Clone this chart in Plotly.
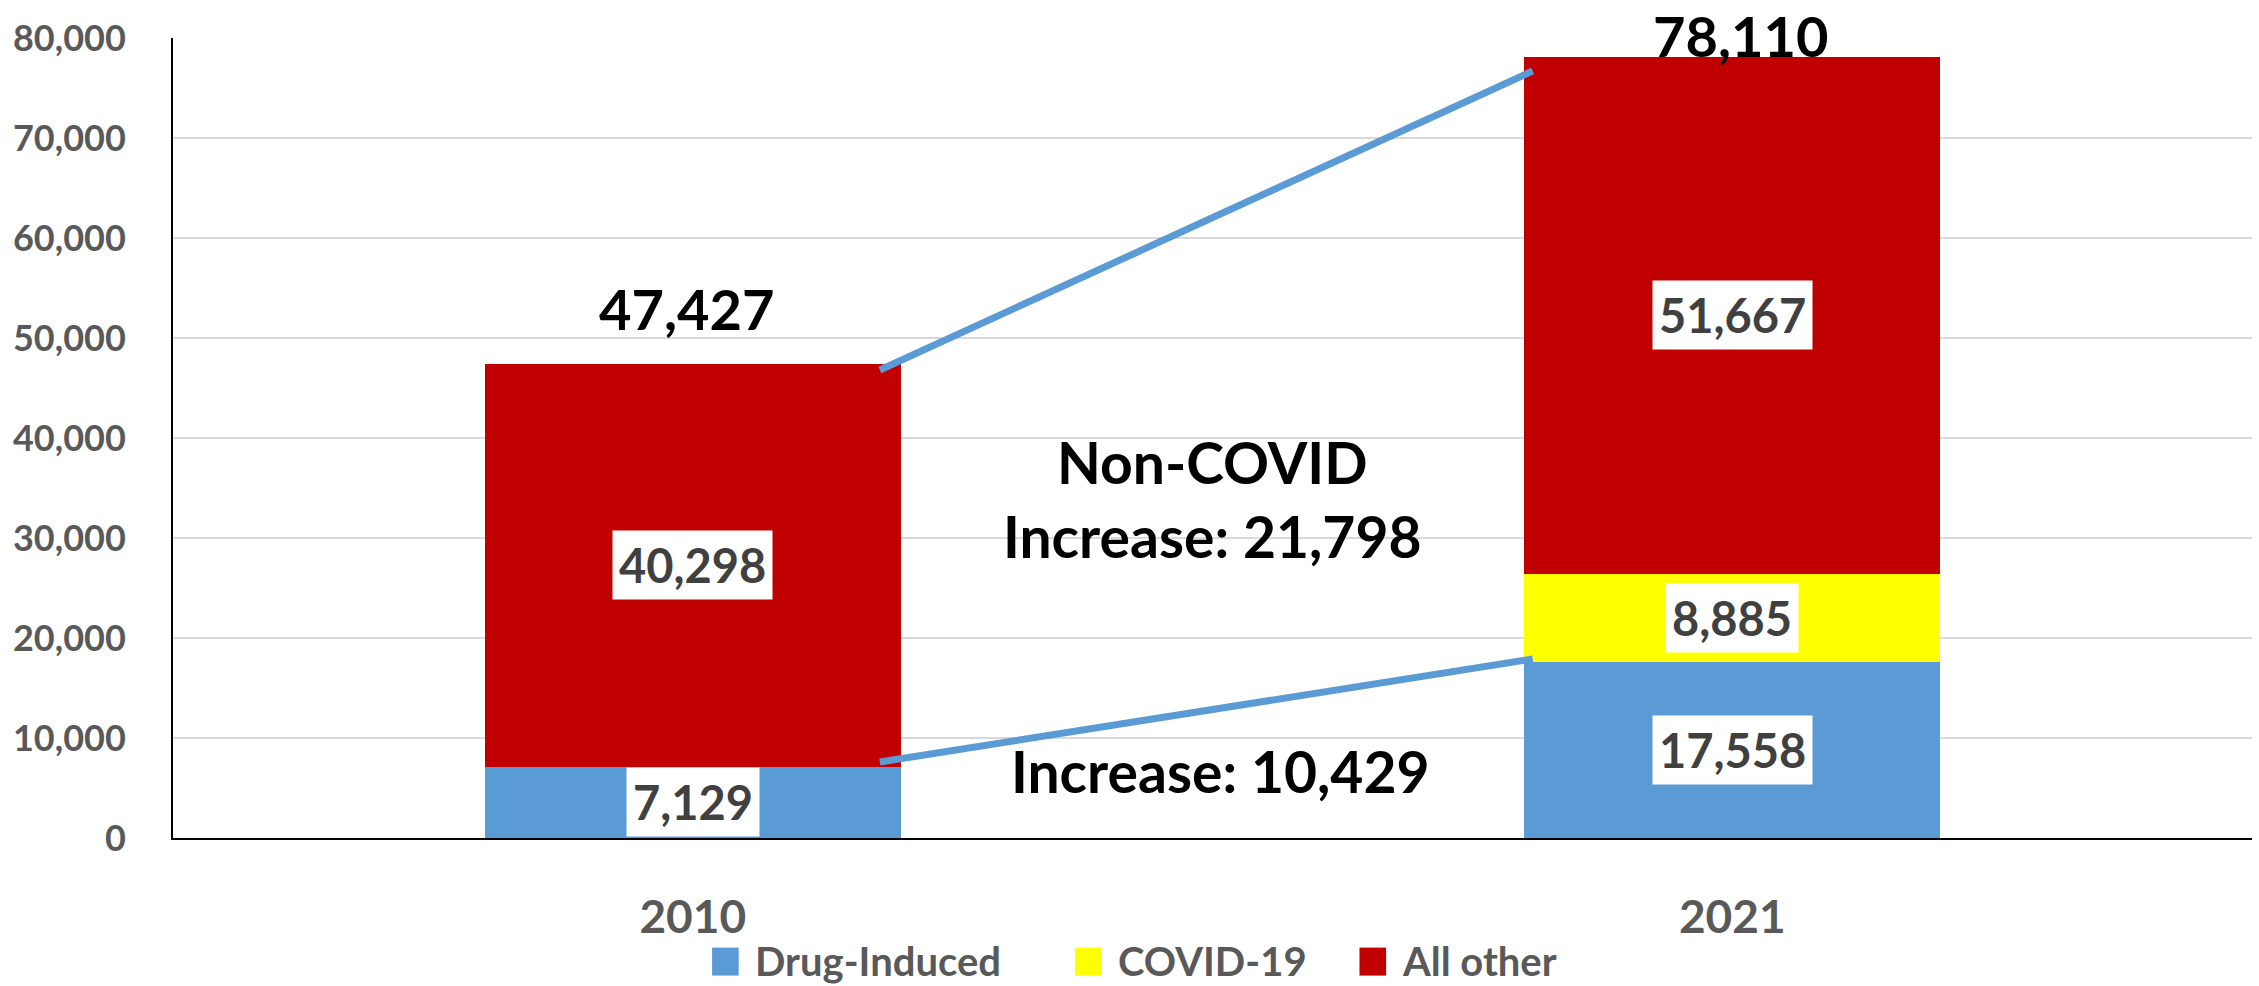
import plotly.graph_objects as go

# Deaths by cause, 2010 vs 2021
years = ["2010", "2021"]
drug_induced = [7129, 17558]
covid_19 = [0, 8885]
all_other = [40298, 51667]

# Connector lines between the two bars (values on the y scale)
lower_connector = [7600, 17900]
upper_connector = [46800, 76700]

series_names = ["Drug-Induced", "COVID-19", "All other"]
series_colors = ["#5B9BD5", "#FFFF00", "#C00000"]

FONT = "Lato"
BAR_WIDTH = 0.4
x_pos = list(range(len(years)))

fig = go.Figure()

for name, vals, color in zip(series_names, [drug_induced, covid_19, all_other], series_colors):
    fig.add_trace(go.Bar(
        x=x_pos, y=vals, name=name, width=BAR_WIDTH,
        marker=dict(color=color, line=dict(width=0)),
        showlegend=False, hoverinfo="y+name",
    ))

# connector lines from the 2010 bar to the 2021 bar
line_x = [x_pos[0] + BAR_WIDTH / 2 - 0.02, x_pos[1] - BAR_WIDTH / 2 + 0.008]
for vals in (upper_connector, lower_connector):
    fig.add_trace(go.Scatter(
        x=line_x, y=vals, mode="lines",
        line=dict(color="#5B9BD5", width=7),
        showlegend=False, hoverinfo="skip",
    ))

annotations = []

# segment value labels in white boxes
for i, x in enumerate(x_pos):
    base = 0
    for vals in (drug_induced, covid_19, all_other):
        v = vals[i]
        if v > 0:
            annotations.append(dict(
                x=x, y=base + v / 2, xref="x", yref="y",
                text=f"{v:,}", showarrow=False,
                font=dict(family=FONT, size=47, color="#404040", weight="bold"),
                bgcolor="white", borderpad=6,
            ))
        base += v

# totals above the bars
totals = [d + c + o for d, c, o in zip(drug_induced, covid_19, all_other)]
total_shift = [55, 21]
total_dx = [-6, 9]
for x, t, s, dx in zip(x_pos, totals, total_shift, total_dx):
    annotations.append(dict(
        x=x, y=t, xref="x", yref="y", text=f"{t:,}", showarrow=False,
        yanchor="middle", yshift=s, xshift=dx,
        font=dict(family=FONT, size=56, color="black", weight="bold"),
    ))

# change annotations
non_covid_2010 = drug_induced[0] + all_other[0]
non_covid_2021 = drug_induced[1] + all_other[1]
annotations.append(dict(
    x=0.5, y=33950, xref="x", yref="y",
    text=f"Non-COVID<br>Increase: {non_covid_2021 - non_covid_2010:,}",
    showarrow=False, align="center",
    font=dict(family=FONT, size=57, color="black", weight="bold"),
))
annotations.append(dict(
    x=0.508, y=6700, xref="x", yref="y",
    text=f"Increase: {drug_induced[1] - drug_induced[0]:,}",
    showarrow=False,
    font=dict(family=FONT, size=57, color="black", weight="bold"),
))

# legend row below the axis
legend_x = [0.2593, 0.4339, 0.5707]
shapes = []
for lx, name, color in zip(legend_x, series_names, series_colors):
    shapes.append(dict(
        type="rect", xref="paper", yref="paper",
        x0=lx, x1=lx + 0.0128, y0=-0.172, y1=-0.137,
        fillcolor=color, line=dict(width=0),
    ))
    annotations.append(dict(
        x=lx + 0.0195, y=-0.1535, xref="paper", yref="paper",
        xanchor="left", yanchor="middle", text=name, showarrow=False,
        font=dict(family=FONT, size=40, color="#595959", weight="bold"),
    ))

fig.update_layout(
    width=2259, height=986,
    margin=dict(l=173, r=7, t=38, b=148),
    paper_bgcolor="white", plot_bgcolor="white",
    barmode="stack", bargap=0.6,
    annotations=annotations, shapes=shapes,
    showlegend=False,
    xaxis=dict(
        range=[-0.5, 1.5], tickvals=x_pos, ticktext=years,
        showgrid=False, zeroline=False,
        showline=True, linecolor="black", linewidth=2,
        ticks="", ticklabelstandoff=38,
        tickfont=dict(family=FONT, size=46, color="#595959", weight="bold"),
    ),
    yaxis=dict(
        range=[0, 80000], dtick=10000, tickformat=",",
        showgrid=True, gridcolor="#D9D9D9", gridwidth=2,
        zeroline=False, showline=True, linecolor="black", linewidth=2,
        ticks="", ticklabelstandoff=38,
        tickfont=dict(family=FONT, size=36, color="#595959", weight="bold"),
    ),
)

fig.write_html("out.html")
